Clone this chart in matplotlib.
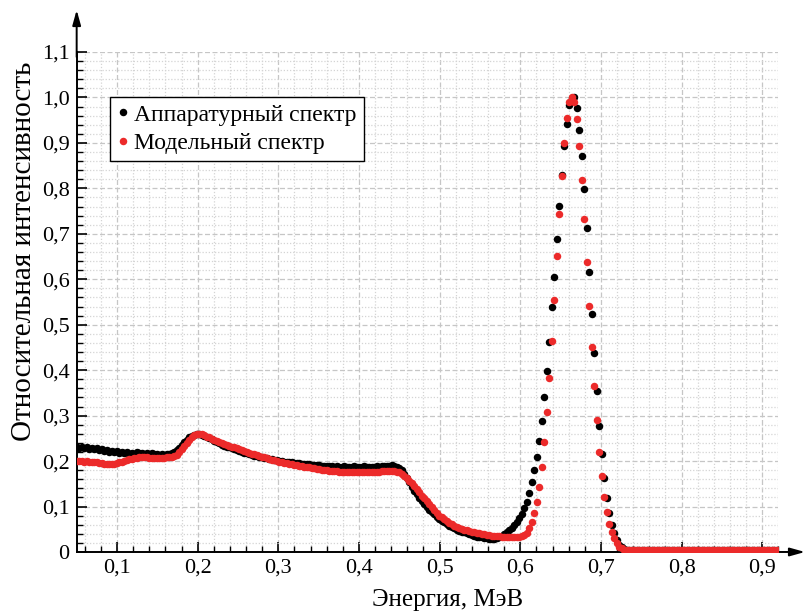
# -*- coding: utf-8 -*-
import matplotlib
matplotlib.use('Agg')
import matplotlib.pyplot as plt
from matplotlib.ticker import MultipleLocator, FuncFormatter

plt.rcParams['font.family'] = ['Liberation Serif', 'DejaVu Serif']

# --- Каналы энергии, МэВ ---
energy = [
    0.0500, 0.0531, 0.0562, 0.0593, 0.0624, 0.0655, 0.0686, 0.0717, 0.0748, 0.0779,
    0.0810, 0.0841, 0.0872, 0.0903, 0.0934, 0.0965, 0.0996, 0.1027, 0.1058, 0.1089,
    0.1120, 0.1151, 0.1182, 0.1213, 0.1244, 0.1275, 0.1306, 0.1337, 0.1368, 0.1399,
    0.1430, 0.1461, 0.1492, 0.1523, 0.1554, 0.1585, 0.1616, 0.1647, 0.1678, 0.1709,
    0.1740, 0.1771, 0.1802, 0.1833, 0.1864, 0.1895, 0.1926, 0.1957, 0.1988, 0.2019,
    0.2050, 0.2081, 0.2112, 0.2143, 0.2174, 0.2205, 0.2236, 0.2267, 0.2298, 0.2329,
    0.2360, 0.2391, 0.2422, 0.2453, 0.2484, 0.2515, 0.2546, 0.2577, 0.2608, 0.2639,
    0.2670, 0.2701, 0.2732, 0.2763, 0.2794, 0.2825, 0.2856, 0.2887, 0.2918, 0.2949,
    0.2980, 0.3011, 0.3042, 0.3073, 0.3104, 0.3135, 0.3166, 0.3197, 0.3228, 0.3259,
    0.3290, 0.3321, 0.3352, 0.3383, 0.3414, 0.3445, 0.3476, 0.3507, 0.3538, 0.3569,
    0.3600, 0.3631, 0.3662, 0.3693, 0.3724, 0.3755, 0.3786, 0.3817, 0.3848, 0.3879,
    0.3910, 0.3941, 0.3972, 0.4003, 0.4034, 0.4065, 0.4096, 0.4127, 0.4158, 0.4189,
    0.4220, 0.4251, 0.4282, 0.4313, 0.4344, 0.4375, 0.4406, 0.4437, 0.4468, 0.4499,
    0.4530, 0.4561, 0.4592, 0.4623, 0.4654, 0.4685, 0.4716, 0.4747, 0.4778, 0.4809,
    0.4840, 0.4871, 0.4902, 0.4933, 0.4964, 0.4995, 0.5026, 0.5057, 0.5088, 0.5119,
    0.5150, 0.5181, 0.5212, 0.5243, 0.5274, 0.5305, 0.5336, 0.5367, 0.5398, 0.5429,
    0.5460, 0.5491, 0.5522, 0.5553, 0.5584, 0.5615, 0.5646, 0.5677, 0.5708, 0.5739,
    0.5770, 0.5801, 0.5832, 0.5863, 0.5894, 0.5925, 0.5956, 0.5987, 0.6018, 0.6049,
    0.6080, 0.6111, 0.6142, 0.6173, 0.6204, 0.6235, 0.6266, 0.6297, 0.6328, 0.6359,
    0.6390, 0.6421, 0.6452, 0.6483, 0.6514, 0.6545, 0.6576, 0.6607, 0.6638, 0.6669,
    0.6700, 0.6731, 0.6762, 0.6793, 0.6824, 0.6855, 0.6886, 0.6917, 0.6948, 0.6979,
    0.7010, 0.7041, 0.7072, 0.7103, 0.7134, 0.7165, 0.7196, 0.7227, 0.7258, 0.7289,
    0.7320, 0.7351, 0.7382, 0.7413, 0.7444, 0.7475, 0.7506, 0.7537, 0.7568, 0.7599,
    0.7630, 0.7661, 0.7692, 0.7723, 0.7754, 0.7785, 0.7816, 0.7847, 0.7878, 0.7909,
    0.7940, 0.7971, 0.8002, 0.8033, 0.8064, 0.8095, 0.8126, 0.8157, 0.8188, 0.8219,
    0.8250, 0.8281, 0.8312, 0.8343, 0.8374, 0.8405, 0.8436, 0.8467, 0.8498, 0.8529,
    0.8560, 0.8591, 0.8622, 0.8653, 0.8684, 0.8715, 0.8746, 0.8777, 0.8808, 0.8839,
    0.8870, 0.8901, 0.8932, 0.8963, 0.8994, 0.9025, 0.9056, 0.9087, 0.9118, 0.9149,
    0.9180,
]

# --- Аппаратурный спектр (чёрные точки) ---
apparatus = [
    0.231, 0.229, 0.232, 0.228, 0.230, 0.227, 0.229, 0.226, 0.228, 0.225,
    0.226, 0.223, 0.225, 0.221, 0.223, 0.220, 0.222, 0.218, 0.220, 0.217,
    0.219, 0.216, 0.218, 0.216, 0.219, 0.217, 0.218, 0.216, 0.218, 0.216,
    0.217, 0.215, 0.216, 0.214, 0.216, 0.214, 0.215, 0.216, 0.218, 0.220,
    0.224, 0.229, 0.235, 0.241, 0.247, 0.252, 0.256, 0.258, 0.259, 0.259,
    0.258, 0.256, 0.254, 0.251, 0.248, 0.245, 0.242, 0.239, 0.236, 0.234,
    0.232, 0.230, 0.228, 0.226, 0.224, 0.222, 0.220, 0.218, 0.217, 0.215,
    0.214, 0.212, 0.211, 0.210, 0.209, 0.207, 0.206, 0.205, 0.204, 0.203,
    0.202, 0.201, 0.200, 0.199, 0.198, 0.197, 0.197, 0.196, 0.195, 0.195,
    0.194, 0.194, 0.193, 0.193, 0.192, 0.192, 0.191, 0.191, 0.190, 0.190,
    0.189, 0.190, 0.189, 0.188, 0.189, 0.188, 0.188, 0.189, 0.188, 0.187,
    0.188, 0.189, 0.188, 0.187, 0.188, 0.189, 0.188, 0.187, 0.188, 0.188,
    0.189, 0.188, 0.189, 0.189, 0.190, 0.190, 0.191, 0.190, 0.188, 0.185,
    0.180, 0.172, 0.163, 0.153, 0.144, 0.135, 0.127, 0.119, 0.112, 0.105,
    0.099, 0.093, 0.088, 0.083, 0.078, 0.073, 0.069, 0.065, 0.061, 0.058,
    0.055, 0.052, 0.049, 0.047, 0.045, 0.043, 0.041, 0.039, 0.037, 0.036,
    0.034, 0.033, 0.032, 0.031, 0.030, 0.029, 0.029, 0.029, 0.030, 0.032,
    0.035, 0.039, 0.043, 0.048, 0.053, 0.059, 0.066, 0.074, 0.084, 0.096,
    0.111, 0.129, 0.155, 0.181, 0.209, 0.245, 0.289, 0.342, 0.399, 0.463,
    0.539, 0.605, 0.688, 0.761, 0.830, 0.894, 0.942, 0.983, 0.998, 1.000,
    0.977, 0.928, 0.872, 0.798, 0.712, 0.616, 0.524, 0.438, 0.355, 0.278,
    0.216, 0.162, 0.118, 0.085, 0.059, 0.041, 0.026, 0.016, 0.010, 0.006,
    0.005, 0.005, 0.005, 0.005, 0.005, 0.005, 0.005, 0.005, 0.005, 0.005,
    0.005, 0.005, 0.005, 0.005, 0.005, 0.005, 0.005, 0.005, 0.005, 0.005,
    0.005, 0.005, 0.005, 0.005, 0.005, 0.005, 0.005, 0.005, 0.005, 0.005,
    0.005, 0.005, 0.005, 0.005, 0.005, 0.005, 0.005, 0.005, 0.005, 0.005,
    0.005, 0.005, 0.005, 0.005, 0.005, 0.005, 0.005, 0.005, 0.005, 0.005,
    0.005, 0.005, 0.005, 0.005, 0.005, 0.005, 0.005, 0.005, 0.005, 0.005,
    0.005,
]

# --- Модельный спектр (красные точки) ---
model = [
    0.201, 0.200, 0.201, 0.199, 0.200, 0.199, 0.198, 0.198, 0.197, 0.196,
    0.195, 0.194, 0.193, 0.193, 0.193, 0.194, 0.195, 0.197, 0.199, 0.201,
    0.203, 0.204, 0.205, 0.206, 0.207, 0.208, 0.208, 0.208, 0.208, 0.207,
    0.207, 0.206, 0.206, 0.206, 0.207, 0.207, 0.208, 0.208, 0.209, 0.211,
    0.214, 0.219, 0.226, 0.233, 0.240, 0.247, 0.253, 0.257, 0.259, 0.260,
    0.259, 0.257, 0.254, 0.252, 0.249, 0.247, 0.245, 0.243, 0.240, 0.238,
    0.236, 0.234, 0.232, 0.230, 0.228, 0.226, 0.224, 0.222, 0.220, 0.218,
    0.216, 0.215, 0.213, 0.211, 0.209, 0.208, 0.206, 0.205, 0.203, 0.202,
    0.200, 0.199, 0.198, 0.196, 0.195, 0.194, 0.193, 0.192, 0.191, 0.190,
    0.189, 0.188, 0.187, 0.186, 0.185, 0.184, 0.183, 0.182, 0.181, 0.181,
    0.180, 0.179, 0.179, 0.178, 0.178, 0.177, 0.177, 0.177, 0.176, 0.176,
    0.176, 0.176, 0.176, 0.175, 0.176, 0.176, 0.176, 0.176, 0.176, 0.177,
    0.177, 0.177, 0.178, 0.178, 0.179, 0.179, 0.179, 0.178, 0.177, 0.175,
    0.172, 0.168, 0.163, 0.157, 0.151, 0.145, 0.138, 0.131, 0.124, 0.118,
    0.112, 0.105, 0.098, 0.092, 0.086, 0.080, 0.076, 0.072, 0.068, 0.064,
    0.061, 0.058, 0.056, 0.053, 0.051, 0.049, 0.048, 0.046, 0.045, 0.044,
    0.042, 0.041, 0.040, 0.039, 0.038, 0.037, 0.036, 0.036, 0.035, 0.035,
    0.034, 0.034, 0.034, 0.034, 0.034, 0.034, 0.034, 0.034, 0.035, 0.037,
    0.041, 0.052, 0.067, 0.085, 0.109, 0.144, 0.188, 0.241, 0.307, 0.382,
    0.465, 0.555, 0.651, 0.743, 0.828, 0.899, 0.955, 0.990, 1.001, 0.990,
    0.952, 0.894, 0.819, 0.733, 0.637, 0.542, 0.451, 0.366, 0.291, 0.221,
    0.167, 0.122, 0.087, 0.062, 0.043, 0.030, 0.019, 0.012, 0.008, 0.005,
    0.005, 0.005, 0.005, 0.005, 0.005, 0.005, 0.005, 0.005, 0.005, 0.005,
    0.005, 0.005, 0.005, 0.005, 0.005, 0.005, 0.005, 0.005, 0.005, 0.005,
    0.005, 0.005, 0.005, 0.005, 0.005, 0.005, 0.005, 0.005, 0.005, 0.005,
    0.005, 0.005, 0.005, 0.005, 0.005, 0.005, 0.005, 0.005, 0.005, 0.005,
    0.005, 0.005, 0.005, 0.005, 0.005, 0.005, 0.005, 0.005, 0.005, 0.005,
    0.005, 0.005, 0.005, 0.005, 0.005, 0.005, 0.005, 0.005, 0.005, 0.005,
    0.005,
]

x_ticks = [0.1, 0.2, 0.3, 0.4, 0.5, 0.6, 0.7, 0.8, 0.9]
y_ticks = [0, 0.1, 0.2, 0.3, 0.4, 0.5, 0.6, 0.7, 0.8, 0.9, 1.0, 1.1]

label_black = 'Аппаратурный спектр'
label_red = 'Модельный спектр'
red = '#ec2a2a'


def comma(v, pos):
    if abs(v) < 1e-9:
        return '0'
    return f'{v:.1f}'.replace('.', ',')


fig = plt.figure(figsize=(8.07, 6.14), dpi=100)
ax = fig.add_axes([0.095, 0.101, 0.8695, 0.8143])

ax.plot(energy, apparatus, 'o', color='black', ms=5.4, mew=0, label=label_black, zorder=3)
ax.plot(energy, model, 'o', color=red, ms=5.4, mew=0, label=label_red, zorder=4)

ax.set_xlim(0.05, 0.92)
ax.set_ylim(0, 1.1)
ax.set_xticks(x_ticks)
ax.set_yticks(y_ticks)
ax.xaxis.set_minor_locator(MultipleLocator(0.02))
ax.yaxis.set_minor_locator(MultipleLocator(0.02))
ax.xaxis.set_major_formatter(FuncFormatter(comma))
ax.yaxis.set_major_formatter(FuncFormatter(comma))

# сетка: пунктир на основных делениях, точки на дополнительных
ax.grid(which='major', ls=(0, (4, 2)), color='#c6c6c6', lw=0.9)
ax.grid(which='minor', ls=(0, (1, 1.5)), color='#d4d4d4', lw=0.9)
ax.set_axisbelow(True)

ax.tick_params(which='major', direction='in', length=7, width=1.2, labelsize=16, pad=5)
ax.tick_params(which='minor', direction='in', length=4, width=1.0)

for s in ('top', 'right'):
    ax.spines[s].set_visible(False)
for s in ('left', 'bottom'):
    ax.spines[s].set_linewidth(1.4)

# стрелки на осях
arrow = dict(arrowstyle='-|>,head_length=0.9,head_width=0.25', color='black', lw=1.4,
             shrinkA=0, shrinkB=0)
ax.annotate('', xy=(0, 1.084), xycoords='axes fraction', xytext=(0, 0.99),
            arrowprops=arrow, annotation_clip=False)
ax.annotate('', xy=(1.038, 0), xycoords='axes fraction', xytext=(0.99, 0),
            arrowprops=arrow, annotation_clip=False)

ax.set_xlabel('Энергия, МэВ', fontsize=18)
ax.set_ylabel('Относительная интенсивность', fontsize=21)
ax.xaxis.set_label_coords(0.529, -0.074)
ax.yaxis.set_label_coords(-0.056, 0.602)

leg = ax.legend(loc='upper left', bbox_to_anchor=(0.047, 0.91), fontsize=17,
                frameon=True, fancybox=False, framealpha=1, edgecolor='black',
                handlelength=0.5, handletextpad=0.25, labelspacing=0.3,
                borderpad=0.3, borderaxespad=0)
leg.get_frame().set_linewidth(1.0)

fig.savefig('out.png', dpi=100)
plt.close(fig)
